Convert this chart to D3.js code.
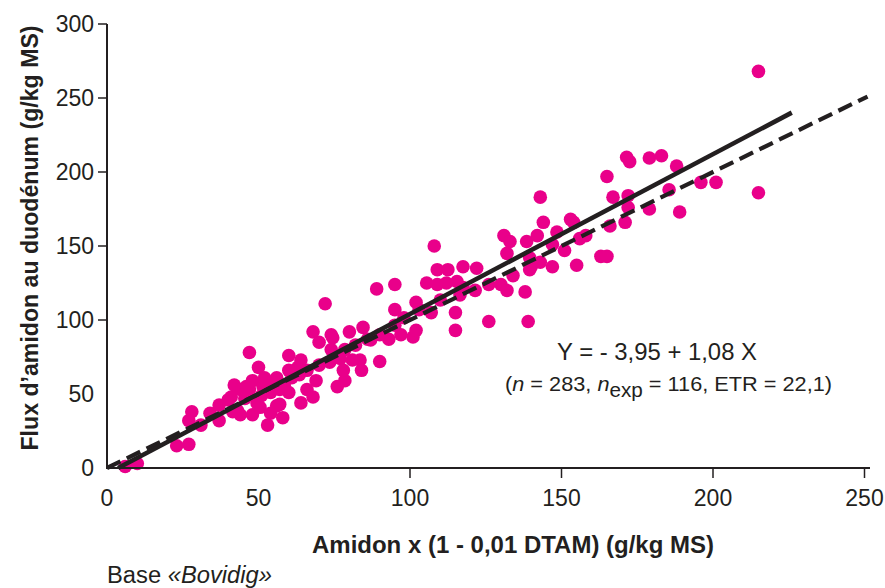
<!DOCTYPE html>
<html><head><meta charset="utf-8">
<script src="https://cdn.jsdelivr.net/npm/d3@7/dist/d3.min.js"></script>
<style>
html,body{margin:0;padding:0;background:#fff;}
svg{display:block;font-family:"Liberation Sans",Arial,sans-serif;}
</style></head>
<body>
<svg id="chart" width="885" height="588"></svg>
<script>
// Data
const xValues = [6,10,23,27,28,27,31,34,37,41,43,44,48,50.5,53,56,47,50,47,41.5,44,46,48,51.5,54,57,57,58,54,49.5,56,61,63,60,64,60,64,66,68,69,70,74,77,78.5,76,72,68,74,80,84.5,83.5,84,89,95,95,93,90,97,101,102,102,107,115,115,108,109,112.5,117.5,105.5,109,112,115.5,117.5,122,126,130,132,138,126,139,131,133,132,138.5,142,139.5,140,143,139.5,147,147,134,143,144,148.5,151,153,154,155,156,158,163,165,165,167,166,171,171.5,172.5,172,172,179,183,179,185.5,188,189,196,201,215,215,
  37,40,45.5,51,54.5,58.5,63.5,66,70,73.5,78.5,82,87,90,95,98,103,110,116.5,121.5,74.5,86,81,78,60,52,42];
const yValues = [1,3,15,16,38,32,29,37,32,48,39,36,36,41,29,42,78,68,53,38,53,55,59,55,51,53,43,34,37,44,61,61,68,76,73,51,44,53,48,59,85,80,74,59,55,111,92,90,92,95,73,66,121,124,107,87,72,90,88.5,93,112,105,105,93,150,134,134,136,125,124,125,126,122,135,124,124,120,119,99,99,157,153,145,153,157,142,136,139,134,151,136,130,183,166,159.5,147,168,166,137,155,157,143,143,197,183,163.5,166,210,207,184,176,209.5,211,175,188,204,173,193,193,268,186,
  42.5,46,47,49,58,56,63,66,69.5,71.5,80,83,86.5,90,96.5,101.5,107,113.5,117,120,88,87,73,66,66,61,56];
const xTicks = [0,50,100,150,200,250];
const yTicks = [0,50,100,150,200,250,300];
const fitIntercept = -3.95, fitSlope = 1.08;
const fitRange = [3.66, 226];
const identityRange = [0, 251];
const equationText = "Y = - 3,95 + 1,08 X";
const xTitle = "Amidon x (1 - 0,01 DTAM) (g/kg MS)";
const yTitle = "Flux d’amidon au duodénum (g/kg MS)";

const svg = d3.select("#chart");
const ink = "#231f20";
const x = d3.scaleLinear().domain([0,250]).range([107,864.5]);
const y = d3.scaleLinear().domain([0,300]).range([468,24]);

// points
svg.append("g").selectAll("circle").data(xValues.map((v,i)=>[v,yValues[i]]))
  .join("circle").attr("cx",d=>x(d[0])).attr("cy",d=>y(d[1])).attr("r",6.8)
  .attr("fill","#e9008a");

// lines
const line = d3.line().x(d=>x(d[0])).y(d=>y(d[1]));
svg.append("path").attr("d",line(identityRange.map(v=>[v,v])))
  .attr("fill","none").attr("stroke",ink).attr("stroke-width",4.2).attr("stroke-dasharray","15,7");
svg.append("path").attr("d",line(fitRange.map(v=>[v,fitIntercept+fitSlope*v])))
  .attr("fill","none").attr("stroke",ink).attr("stroke-width",4.6);

// axes
svg.append("line").attr("x1",x(0)).attr("x2",870).attr("y1",y(0)).attr("y2",y(0)).attr("stroke",ink).attr("stroke-width",2);
svg.append("line").attr("x1",x(0)).attr("x2",x(0)).attr("y1",y(0)+1).attr("y2",y(300)).attr("stroke",ink).attr("stroke-width",2);

const xg = svg.append("g");
xTicks.forEach(t=>{
  if(t>=100) xg.append("line").attr("x1",x(t)).attr("x2",x(t)).attr("y1",y(0)).attr("y2",y(0)+10).attr("stroke",ink).attr("stroke-width",1.5);
  xg.append("text").attr("x",x(t)).attr("y",506).attr("text-anchor","middle")
    .attr("font-size",23).attr("fill",ink).text(t);
});
const yg = svg.append("g");
yTicks.forEach(t=>{
  if(t>=100) yg.append("line").attr("x1",x(0)-9).attr("x2",x(0)).attr("y1",y(t)).attr("y2",y(t)).attr("stroke",ink).attr("stroke-width",1.5);
  yg.append("text").attr("x",94).attr("y",y(t)).attr("dy","0.36em").attr("text-anchor","end")
    .attr("font-size",23).attr("fill",ink).text(t);
});

// titles
svg.append("text").attr("x",513).attr("y",553).attr("text-anchor","middle")
  .attr("font-size",23).attr("font-weight","bold").attr("fill",ink)
  .attr("textLength",402).attr("lengthAdjust","spacingAndGlyphs").text(xTitle);
svg.append("text").attr("transform","translate(38,238) rotate(-90)").attr("text-anchor","middle")
  .attr("font-size",23).attr("font-weight","bold").attr("fill",ink)
  .attr("textLength",425).attr("lengthAdjust","spacingAndGlyphs").text(yTitle);

const base = svg.append("text").attr("x",107).attr("y",583).attr("font-size",23).attr("fill",ink)
  .attr("textLength",165).attr("lengthAdjust","spacingAndGlyphs");
base.append("tspan").text("Base ");
base.append("tspan").attr("font-style","italic").text("«Bovidig»");

// equation
svg.append("text").attr("x",557).attr("y",360).attr("font-size",24).attr("fill",ink)
  .attr("textLength",200).attr("lengthAdjust","spacingAndGlyphs").text(equationText);
const st = svg.append("text").attr("x",505).attr("y",391).attr("font-size",21).attr("fill",ink)
  .attr("textLength",327).attr("lengthAdjust","spacingAndGlyphs");
st.append("tspan").text("(");
st.append("tspan").attr("font-style","italic").text("n");
st.append("tspan").text(" = 283, ");
st.append("tspan").attr("font-style","italic").text("n");
st.append("tspan").attr("dy",6).attr("font-size",20).text("exp");
st.append("tspan").attr("dy",-6).text(" = 116, ETR = 22,1)");
</script>
</body></html>
